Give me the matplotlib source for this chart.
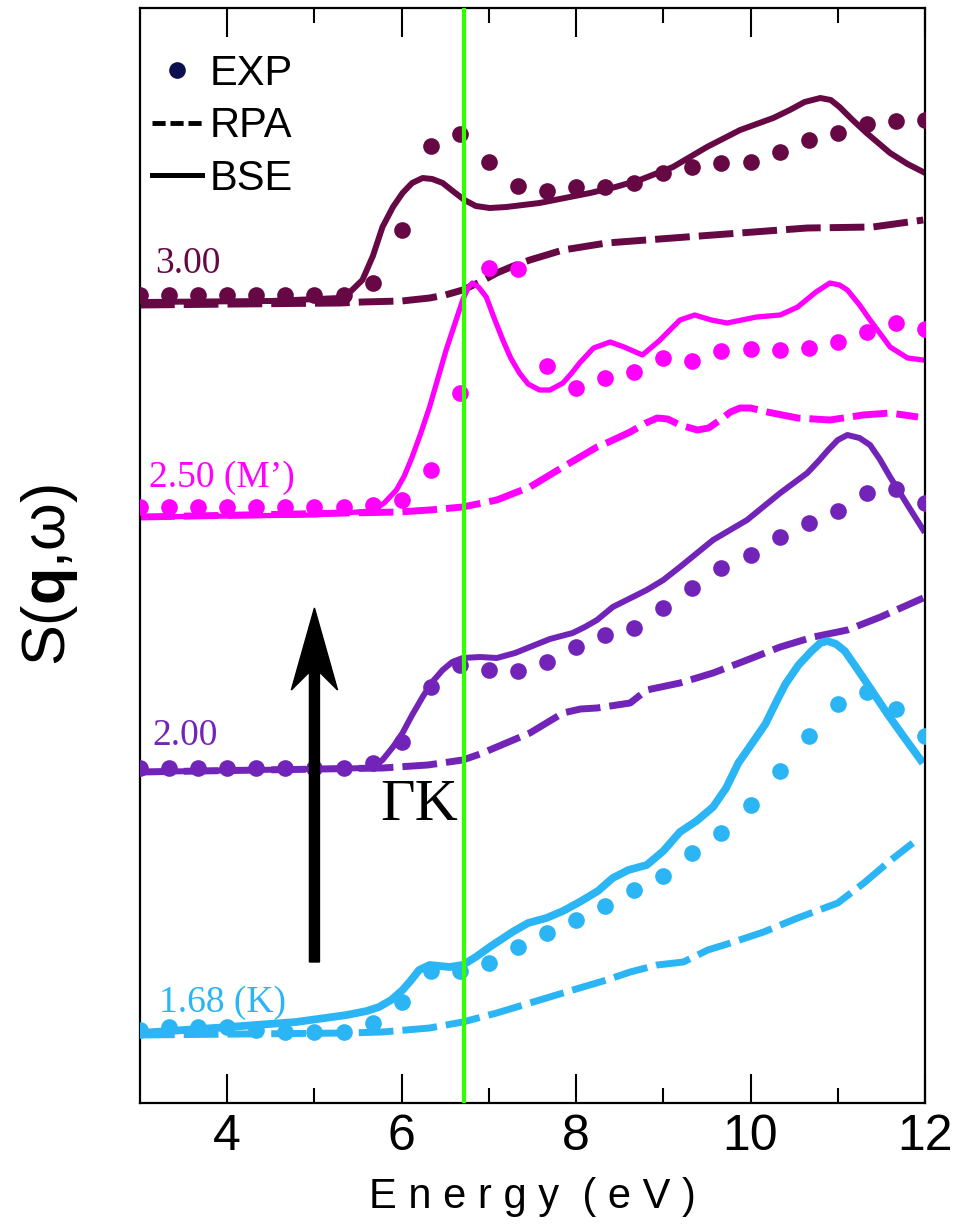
"""S(q,w) spectra along Gamma-K: EXP dots, RPA dashed, BSE solid, stacked by q."""
import matplotlib
matplotlib.use('Agg')
import matplotlib.pyplot as plt
from matplotlib.lines import Line2D
import numpy as np

plt.rcParams['font.family'] = ['Liberation Sans', 'DejaVu Sans']
plt.rcParams['mathtext.fontset'] = 'custom'
plt.rcParams['mathtext.rm'] = 'Liberation Sans'
plt.rcParams['mathtext.bf'] = 'Liberation Sans:bold'

# Energieachse der Messpunkte (eV)
e_exp = np.arange(28) / 3.0 + 3.0

# --- q = 3.00 ---
exp_300 = [8.08, 8.08, 8.08, 8.08, 8.08, 8.08, 8.08, 8.08, 8.20, 8.73, 9.57, 9.69,
           9.41, 9.17, 9.12, 9.16, 9.16, 9.20, 9.30, 9.36, 9.40, 9.41, 9.51, 9.63,
           9.70, 9.79, 9.82, 9.83]
bse_300_e = [3.0, 4.5, 5.29, 5.42, 5.55, 5.67, 5.78, 5.9, 6.01, 6.12, 6.24, 6.35,
             6.47, 6.6, 6.72, 6.85, 7.01, 7.2, 7.58, 8.16, 8.45, 8.73, 9.11, 9.50,
             9.88, 10.26, 10.45, 10.62, 10.80, 10.92, 11.02, 11.17, 11.33, 11.60,
             11.8, 11.98]
bse_300 = [8.01, 8.02, 8.05, 8.12, 8.23, 8.47, 8.76, 8.96, 9.10, 9.20, 9.25, 9.24,
           9.20, 9.11, 9.03, 8.97, 8.95, 8.96, 9.00, 9.10, 9.16, 9.23, 9.36, 9.56,
           9.73, 9.85, 9.93, 10.01, 10.05, 10.03, 9.96, 9.83, 9.70, 9.50, 9.39, 9.31]
rpa_300_e = [3.0, 5.29, 5.55, 6.0, 6.32, 6.50, 6.70, 6.90, 7.09, 7.28, 7.47, 7.85,
             8.35, 9.11, 9.88, 10.65, 11.40, 11.98]
rpa_300 = [7.98, 8.00, 8.01, 8.02, 8.05, 8.08, 8.13, 8.21, 8.30, 8.37, 8.43, 8.53,
           8.60, 8.65, 8.70, 8.75, 8.76, 8.83]

# --- q = 2.50 (M') ---
exp_250 = [5.96, 5.96, 5.96, 5.96, 5.96, 5.96, 5.96, 5.96, 5.98, 6.03, 6.33, 7.10,
           8.35, 8.34, 7.37, 7.15, 7.25, 7.31, 7.45, 7.42, 7.52, 7.54, 7.53, 7.55,
           7.61, 7.71, 7.80, 7.74]
bse_250_e = [3.0, 5.0, 5.66, 5.8, 5.94, 6.03, 6.12, 6.22, 6.32, 6.51, 6.70, 6.76,
             6.81, 6.88, 6.97, 7.06, 7.16, 7.25, 7.35, 7.45, 7.58, 7.7, 7.85, 7.95,
             8.04, 8.2, 8.39, 8.55, 8.76, 8.95, 9.19, 9.36, 9.55, 9.73, 10.07, 10.34,
             10.54, 10.75, 10.91, 11.02, 11.11, 11.25, 11.37, 11.60, 11.8, 11.98]
bse_250 = [5.86, 5.88, 5.92, 6.00, 6.13, 6.27, 6.46, 6.70, 6.96, 7.53, 8.03, 8.15,
           8.20, 8.16, 8.06, 7.85, 7.63, 7.45, 7.30, 7.19, 7.13, 7.13, 7.20, 7.30,
           7.40, 7.55, 7.61, 7.56, 7.48, 7.62, 7.83, 7.88, 7.83, 7.80, 7.86, 7.88,
           7.96, 8.11, 8.20, 8.18, 8.13, 7.98, 7.83, 7.56, 7.45, 7.43]
rpa_250_e = [3.0, 5.97, 6.32, 6.70, 7.09, 7.47, 7.85, 8.24, 8.35, 8.62, 8.80, 8.93,
             9.05, 9.19, 9.39, 9.52, 9.65, 9.77, 9.88, 10.0, 10.19, 10.54, 10.91,
             11.29, 11.60, 11.92]
rpa_250 = [5.86, 5.91, 5.93, 5.96, 6.03, 6.16, 6.36, 6.56, 6.60, 6.71, 6.80, 6.85,
           6.84, 6.78, 6.73, 6.75, 6.83, 6.91, 6.95, 6.95, 6.91, 6.85, 6.83, 6.88,
           6.90, 6.86]

# --- q = 2.00 ---
exp_200 = [3.35, 3.35, 3.35, 3.35, 3.35, 3.35, 3.35, 3.35, 3.40, 3.61, 4.16, 4.38,
           4.33, 4.32, 4.41, 4.56, 4.68, 4.75, 4.95, 5.15, 5.35, 5.48, 5.66, 5.80,
           5.92, 6.10, 6.14, 6.00]
bse_200_e = [3.0, 5.66, 5.78, 5.9, 6.01, 6.12, 6.24, 6.35, 6.47, 6.58, 6.70, 6.9,
             7.09, 7.3, 7.47, 7.7, 7.96, 8.1, 8.24, 8.42, 8.81, 9.0, 9.19, 9.57, 9.96,
             10.34, 10.65, 10.78, 10.89, 11.0, 11.11, 11.25, 11.37, 11.48, 11.60,
             11.8, 11.98]
bse_200 = [3.31, 3.35, 3.43, 3.56, 3.70, 3.88, 4.06, 4.21, 4.33, 4.41, 4.45, 4.46,
           4.45, 4.50, 4.56, 4.64, 4.70, 4.76, 4.83, 4.96, 5.13, 5.23, 5.36, 5.63,
           5.83, 6.10, 6.30, 6.42, 6.53, 6.63, 6.68, 6.65, 6.58, 6.44, 6.26, 5.98,
           5.73]
rpa_200_e = [3.0, 5.78, 6.30, 6.70, 6.90, 7.09, 7.47, 7.85, 8.05, 8.24, 8.62, 8.81,
             9.19, 9.57, 9.96, 10.34, 10.72, 11.11, 11.49, 11.98]
rpa_200 = [3.31, 3.35, 3.38, 3.43, 3.49, 3.56, 3.70, 3.90, 3.94, 3.95, 4.00, 4.13,
           4.20, 4.30, 4.43, 4.56, 4.66, 4.73, 4.86, 5.05]

# --- q = 1.68 (K) ---
exp_168 = [0.73, 0.76, 0.76, 0.76, 0.73, 0.71, 0.71, 0.71, 0.80, 1.01, 1.32, 1.32,
           1.40, 1.56, 1.70, 1.83, 1.97, 2.13, 2.27, 2.50, 2.70, 2.98, 3.32, 3.67,
           3.99, 4.11, 3.94, 3.67]
bse_168_e = [3.0, 4.02, 4.79, 5.37, 5.6, 5.74, 5.88, 6.01, 6.1, 6.20, 6.32, 6.55,
             6.70, 6.85, 7.01, 7.27, 7.45, 7.66, 7.85, 8.04, 8.25, 8.42, 8.6, 8.81,
             9.0, 9.19, 9.38, 9.57, 9.72, 9.86, 10.02, 10.17, 10.30, 10.40, 10.55,
             10.70, 10.80, 10.88, 10.98, 11.08, 11.2, 11.34, 11.57, 11.75, 11.95]
bse_168 = [0.70, 0.76, 0.81, 0.88, 0.92, 0.96, 1.03, 1.13, 1.22, 1.33, 1.38, 1.36,
           1.38, 1.46, 1.56, 1.71, 1.80, 1.85, 1.92, 2.01, 2.12, 2.25, 2.33, 2.38,
           2.52, 2.71, 2.82, 2.96, 3.15, 3.40, 3.60, 3.79, 4.02, 4.19, 4.38, 4.52,
           4.60, 4.62, 4.59, 4.52, 4.37, 4.19, 3.89, 3.67, 3.43]
rpa_168_e = [3.0, 5.37, 5.78, 6.32, 6.70, 7.09, 7.47, 7.85, 8.04, 8.35, 8.62, 8.93,
             9.23, 9.51, 9.77, 10.15, 10.54, 11.00, 11.30, 11.61, 11.86]
rpa_168 = [0.68, 0.70, 0.71, 0.75, 0.81, 0.90, 1.00, 1.10, 1.15, 1.23, 1.31, 1.38,
           1.41, 1.53, 1.60, 1.71, 1.85, 2.00, 2.20, 2.43, 2.60]

labels = ['3.00', '2.50 (M\u2019)', '2.00', '1.68 (K)']
label_pos = [(3.17, 8.30), (3.10, 6.16), (3.14, 3.58), (3.22, 0.91)]
farben = ['#660844', '#ff00ff', '#7224b8', '#2bb5f4']
lw_bse = [4.3, 3.8, 4.3, 5.6]
lw_rpa = [5.0, 5.0, 5.0, 5.0]

serien = [
    (exp_300, bse_300_e, bse_300, rpa_300_e, rpa_300),
    (exp_250, bse_250_e, bse_250, rpa_250_e, rpa_250),
    (exp_200, bse_200_e, bse_200, rpa_200_e, rpa_200),
    (exp_168, bse_168_e, bse_168, rpa_168_e, rpa_168),
]

gk_energie = 6.72   # gruene Linie
pfeil_x, pfeil_von, pfeil_bis = 5.0, 1.41, 4.95

fig = plt.figure(figsize=(9.63, 12.31), dpi=100)
ax = fig.add_axes([140 / 963, 128 / 1231, 785 / 963, 1095 / 1231])

for i, (ex, be, bv, re_, rv) in enumerate(serien):
    c = farben[i]
    ax.plot(re_, rv, color=c, lw=lw_rpa[i], linestyle=(0, (5, 1.3)),
            dash_capstyle='butt', dash_joinstyle='round', zorder=2)
    ax.plot(be, bv, color=c, lw=lw_bse[i], solid_joinstyle='round', zorder=2)
    ax.plot(e_exp, ex, 'o', color=c, ms=12, mec='none', zorder=3)
    ax.text(label_pos[i][0], label_pos[i][1], labels[i], color=c, fontsize=27,
            family=['Liberation Serif', 'DejaVu Serif'], ha='left', va='baseline')

ax.axvline(gk_energie, color='#33ff00', lw=3, zorder=4)

ax.arrow(pfeil_x, pfeil_von, 0, pfeil_bis - pfeil_von, width=0.115, head_width=0.53,
         head_length=0.82, overhang=0.22, length_includes_head=True,
         color='black', zorder=5)
ax.text(5.75, 2.83, '\u0393K', fontsize=43, family=['Liberation Serif', 'DejaVu Serif'],
        ha='left', va='baseline', color='black')

# Legende
handles = [
    Line2D([], [], marker='o', color='#0b1150', linestyle='none', ms=12, mec='none'),
    Line2D([], [], color='black', lw=3.5, linestyle=(0, (2.7, 1.0))),
    Line2D([], [], color='black', lw=3.6),
]
ax.legend(handles, ['EXP', 'RPA', 'BSE'], loc='upper left',
          bbox_to_anchor=(0.015, 0.958), frameon=False, fontsize=30,
          handlelength=1.2, handletextpad=0.2, labelspacing=0.3,
          borderpad=0, borderaxespad=0)

ax.set_xlim(3, 12)
ax.set_ylim(0, 10.95)
ax.set_xticks([4, 6, 8, 10, 12])
ax.set_xticks([5, 7, 9, 11], minor=True)
ax.set_yticks([])
ax.tick_params(axis='x', which='both', direction='in', top=True, width=1.5,
               labelsize=36, pad=8)
ax.tick_params(axis='x', which='major', length=21)
ax.tick_params(axis='x', which='minor', length=10.5)
for sp in ax.spines.values():
    sp.set_linewidth(1.6)

ax.set_xlabel('E n e r g y  ( e V )', fontsize=30, labelpad=12)
ax.set_ylabel(r'S($\mathbf{q}$,$\mathrm{\omega}$)', fontsize=44)
ax.yaxis.set_label_coords(-0.076, 0.482)

fig.savefig('out.png', dpi=100)
plt.close(fig)
